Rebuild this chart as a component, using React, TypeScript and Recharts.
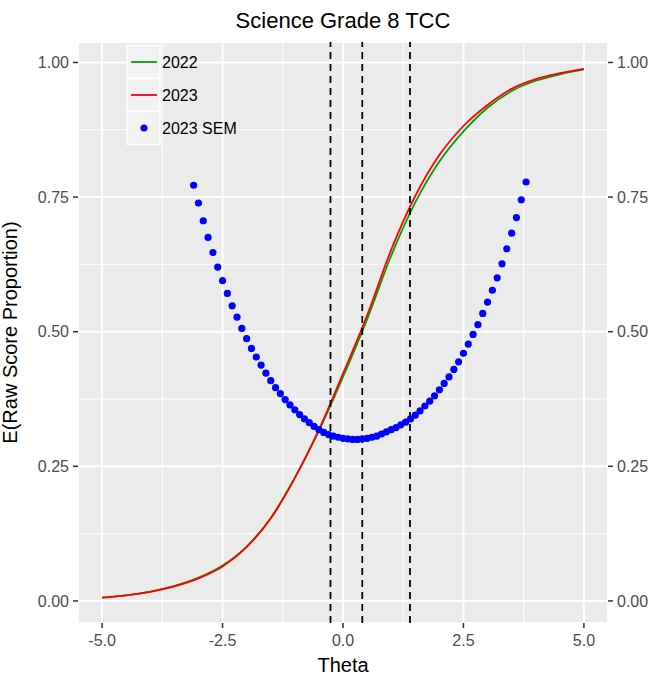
import React from 'react';
import {
  ComposedChart, Line, Scatter, XAxis, YAxis, CartesianGrid, ReferenceLine, Label,
} from 'recharts';

// test characteristic curves at half-unit theta steps
const curveTheta = [-5, -4.5, -4, -3.5, -3, -2.5, -2, -1.5, -1, -0.5, 0, 0.5, 1, 1.5, 2, 2.5, 3, 3.5, 4, 4.5, 5];
const tcc2022 = [0.006, 0.0105, 0.0172, 0.0278, 0.0432, 0.0658, 0.101, 0.154, 0.229, 0.316, 0.416, 0.523, 0.641, 0.740, 0.816, 0.872, 0.916, 0.947, 0.966, 0.978, 0.987];
const tcc2023 = [0.006, 0.0103, 0.0168, 0.027, 0.042, 0.064, 0.100, 0.153, 0.228, 0.318, 0.422, 0.530, 0.652, 0.752, 0.828, 0.882, 0.921, 0.951, 0.969, 0.980, 0.988];

// 2023 SEM dots
const semTheta = [
  -3.1, -3.0, -2.9, -2.8, -2.7, -2.6, -2.5, -2.4, -2.3, -2.2, -2.1, -2.0, -1.9, -1.8, -1.7, -1.6, -1.5, -1.4,
  -1.3, -1.2, -1.1, -1.0, -0.9, -0.8, -0.7, -0.6, -0.5, -0.4, -0.3, -0.2, -0.1, 0.0, 0.1, 0.2, 0.3, 0.4,
  0.5, 0.6, 0.7, 0.8, 0.9, 1.0, 1.1, 1.2, 1.3, 1.4, 1.5, 1.6, 1.7, 1.8, 1.9, 2.0, 2.1, 2.2, 2.3, 2.4,
  2.5, 2.6, 2.7, 2.8, 2.9, 3.0, 3.1, 3.2, 3.3, 3.4, 3.5, 3.6, 3.7, 3.8,
];
const semValues = [
  0.772, 0.739, 0.706, 0.675, 0.647, 0.620, 0.595, 0.571, 0.548, 0.527, 0.506, 0.487, 0.469, 0.453, 0.438, 0.423, 0.409, 0.396,
  0.385, 0.374, 0.364, 0.355, 0.346, 0.338, 0.331, 0.324, 0.318, 0.313, 0.309, 0.306, 0.304, 0.302, 0.301, 0.300, 0.300, 0.301,
  0.302, 0.304, 0.306, 0.310, 0.314, 0.318, 0.322, 0.327, 0.332, 0.338, 0.345, 0.353, 0.362, 0.371, 0.381, 0.392, 0.404, 0.416,
  0.430, 0.444, 0.460, 0.477, 0.495, 0.513, 0.534, 0.555, 0.577, 0.600, 0.626, 0.654, 0.683, 0.712, 0.745, 0.778,
];

const cutScores = [-0.26, 0.40, 1.39];

const xTicks = [-5, -2.5, 0, 2.5, 5];
const yTicks = [0, 0.25, 0.5, 0.75, 1];
const xMinor = [-3.75, -1.25, 1.25, 3.75];
const yMinor = [0.125, 0.375, 0.625, 0.875];

const font = '"Liberation Sans", Arial, sans-serif';
const GREEN = '#00a000';
const RED = '#ff0000';
const BLUE = '#0000ff';

const line2022 = curveTheta.map((t, i) => ({ theta: t, value: tcc2022[i] }));
const line2023 = curveTheta.map((t, i) => ({ theta: t, value: tcc2023[i] }));
const semData = semTheta.map((t, i) => ({ theta: t, value: semValues[i] }));

const tickStyle = { fontSize: 16, fill: '#4d4d4d', fontFamily: font };

const SemDot = (p: any) => <circle cx={p.cx} cy={p.cy} r={3.6} fill={BLUE} />;

const legendItems = [
  { label: '2022', kind: 'line', color: GREEN },
  { label: '2023', kind: 'line', color: RED },
  { label: '2023 SEM', kind: 'dot', color: BLUE },
];

function LegendBox() {
  return (
    <svg width={200} height={110} style={{ position: 'absolute', left: 126, top: 44, overflow: 'visible' }}>
      {legendItems.map((it, i) => (
        <g key={it.label} transform={`translate(1, ${1.5 + i * 33})`}>
          <rect x={0} y={0} width={33} height={33} fill="#f2f2f2" stroke="#fff" strokeWidth={1.5} />
          {it.kind === 'line' ? (
            <line x1={4} x2={30} y1={16.5} y2={16.5} stroke={it.color} strokeWidth={1.8} />
          ) : (
            <circle cx={17} cy={16.5} r={3.6} fill={it.color} />
          )}
          <text x={35} y={22.5} fontSize={16} fontFamily={font} fill="#000">{it.label}</text>
        </g>
      ))}
    </svg>
  );
}

export default function App() {
  return (
    <div style={{ position: 'absolute', left: 0, top: 0, width: 653, height: 678, background: '#fff' }}>
      <svg width={653} height={40} style={{ position: 'absolute', left: 0, top: 0 }}>
        <text x={343} y={28} textAnchor="middle" fontSize={22} fontFamily={font} fill="#000">
          Science Grade 8 TCC
        </text>
      </svg>
      <div style={{ position: 'absolute', left: 0, top: 0 }}>
        <ComposedChart width={653} height={678} margin={{ top: 42, right: 0, bottom: 0, left: 0 }}>
          <CartesianGrid yAxisId="left" fill="#ebebeb" stroke="#fff" strokeWidth={2} />
          {xMinor.map((v) => (
            <ReferenceLine key={`mx${v}`} yAxisId="left" x={v} stroke="#fff" strokeWidth={1} />
          ))}
          {yMinor.map((v) => (
            <ReferenceLine key={`my${v}`} yAxisId="left" y={v} stroke="#fff" strokeWidth={1} />
          ))}
          <XAxis
            type="number"
            dataKey="theta"
            domain={[-5.5, 5.5]}
            ticks={xTicks}
            allowDataOverflow
            tickFormatter={(v: number) => v.toFixed(1)}
            axisLine={false}
            tickLine={{ stroke: '#333', strokeWidth: 1.5 }}
            tickSize={5}
            tickMargin={7}
            tick={tickStyle}
            height={55}
            interval={0}
          >
            <Label value="Theta" position="insideBottom" offset={6} style={{ fontSize: 20, fill: '#000', fontFamily: font }} />
          </XAxis>
          <YAxis
            yAxisId="left"
            type="number"
            domain={[-0.041, 1.038]}
            ticks={yTicks}
            allowDataOverflow
            tickFormatter={(v: number) => v.toFixed(2)}
            axisLine={false}
            tickLine={{ stroke: '#333', strokeWidth: 1.5 }}
            tickSize={5}
            tickMargin={4}
            tick={tickStyle}
            width={78}
            interval={0}
          >
            <Label
              content={({ viewBox }: any) => {
                const cx = 17;
                const cy = viewBox.y + viewBox.height / 2;
                return (
                  <text x={cx} y={cy} transform={`rotate(-90, ${cx}, ${cy})`} textAnchor="middle" fontSize={20} fontFamily={font} fill="#000">
                    E(Raw Score Proportion)
                  </text>
                );
              }}
            />
          </YAxis>
          <YAxis
            yAxisId="right"
            orientation="right"
            type="number"
            domain={[-0.041, 1.038]}
            ticks={yTicks}
            allowDataOverflow
            tickFormatter={(v: number) => v.toFixed(2)}
            axisLine={false}
            tickLine={{ stroke: '#333', strokeWidth: 1.5 }}
            tickSize={5}
            tickMargin={4}
            tick={tickStyle}
            width={45}
            interval={0}
          />
          <Scatter yAxisId="left" data={semData} dataKey="value" shape={SemDot} isAnimationActive={false} />
          <Line yAxisId="left" data={line2022} dataKey="value" type="monotone" stroke={GREEN} strokeWidth={1.8} dot={false} activeDot={false} isAnimationActive={false} />
          <Line yAxisId="left" data={line2023} dataKey="value" type="monotone" stroke={RED} strokeWidth={1.8} dot={false} activeDot={false} isAnimationActive={false} />
          {cutScores.map((c) => (
            <ReferenceLine key={c} yAxisId="left" x={c} stroke="#000" strokeWidth={1.8} strokeDasharray="7 5" />
          ))}
        </ComposedChart>
      </div>
      <LegendBox />
    </div>
  );
}
